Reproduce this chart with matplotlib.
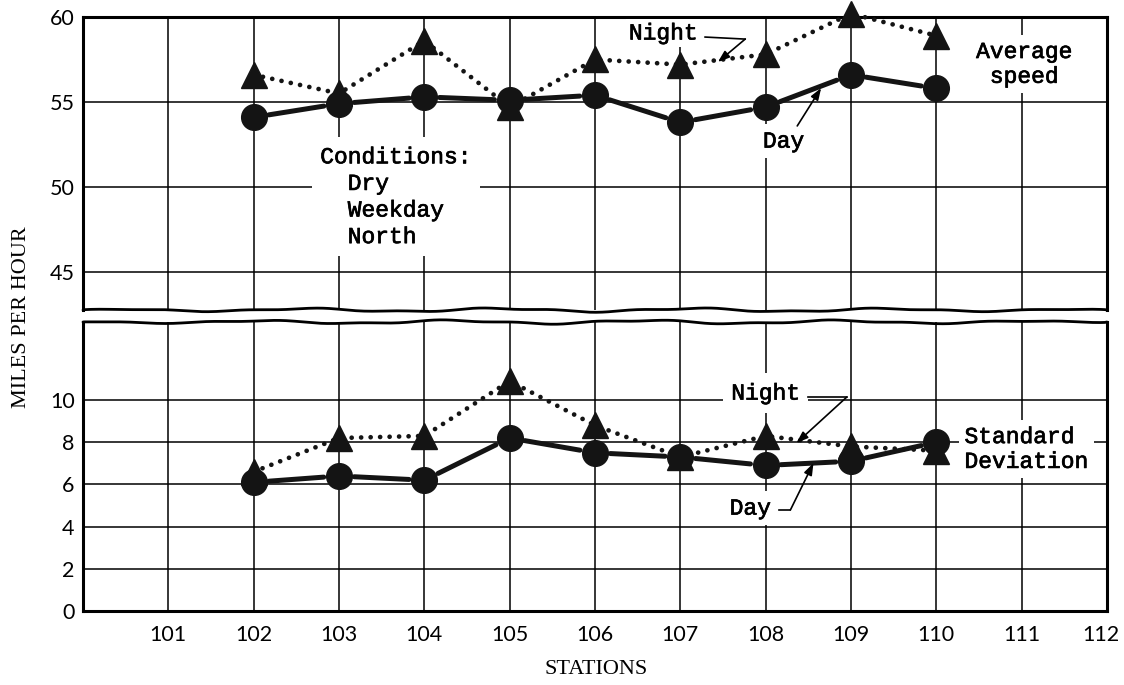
import numpy as np
import matplotlib
matplotlib.use("Agg")
import matplotlib.pyplot as plt
import matplotlib.patheffects as pe
import matplotlib.transforms as mtransforms

# Average speed and standard deviation by station, day vs night
stations = [102, 103, 104, 105, 106, 107, 108, 109, 110]
avg_day = [54.1, 54.9, 55.3, 55.1, 55.4, 53.8, 54.7, 56.6, 55.8]
avg_night = [56.6, 55.5, 58.6, 54.7, 57.5, 57.2, 57.8, 60.2, 58.9]
sd_day = [6.1, 6.4, 6.2, 8.2, 7.5, 7.3, 6.9, 7.1, 8.0]
sd_night = [6.6, 8.2, 8.3, 10.9, 8.8, 7.3, 8.3, 7.8, 7.6]

xtick_stations = list(range(101, 113))
top_yticks = [45, 50, 55, 60]
bottom_yticks = [0, 2, 4, 6, 8, 10]

INK = "#141414"
TYPE = "Liberation Mono"
TICKFONT = "Lato"

W, H = 1124, 685
fig = plt.figure(figsize=(W / 100, H / 100), dpi=100)
left, right = 83 / W, 1107 / W
ax_top = fig.add_axes([left, 1 - 310 / H, right - left, (310 - 17) / H])
ax_bot = fig.add_axes([left, 1 - 611 / H, right - left, (611 - 322) / H])


def style_axes(ax, ylim, yticks):
    ax.set_xlim(100, 112)
    ax.set_ylim(*ylim)
    ax.set_xticks(xtick_stations)
    ax.set_yticks(yticks)
    ax.set_axisbelow(True)
    ax.grid(True, color="black", lw=1.1)
    ax.tick_params(length=0, pad=6, labelsize=15.5)
    for lab in ax.get_yticklabels() + ax.get_xticklabels():
        lab.set_fontfamily(TICKFONT)
    for sp in ax.spines.values():
        sp.set_linewidth(2.2)
        sp.set_color("black")


style_axes(ax_top, (42.76, 60), top_yticks)
style_axes(ax_bot, (0, 13.7), bottom_yticks)
ax_top.tick_params(labelbottom=False)
ax_top.spines["bottom"].set_visible(False)
ax_bot.spines["top"].set_visible(False)
ax_bot.tick_params(axis="x", pad=10)

# keep the last station label inside the figure
last = ax_bot.get_xticklabels()[-1]
last.set_transform(last.get_transform() +
                   mtransforms.ScaledTranslation(-6 / 100, 0, fig.dpi_scale_trans))


def wavy_edge(ax, y_axes, height_px, phase):
    # hand-drawn style break line along one edge of the panel
    t = np.linspace(0, 1, 500)
    wob = (np.sin(2 * np.pi * (5.3 * t + phase)) * 1.6
           + np.sin(2 * np.pi * (13.1 * t + phase * 2)) * 0.7)
    wob *= np.sin(np.pi * t) ** 0.3
    ax.plot(t, y_axes + wob / height_px, transform=ax.transAxes,
            color="black", lw=2.0, clip_on=False, zorder=5,
            solid_capstyle="round")


wavy_edge(ax_top, 0.0, 293, 0.1)
wavy_edge(ax_bot, 1.0, 289, 0.35)


def draw_series(ax, day, night):
    # night: dotted line with triangles
    ax.plot(stations, night, linestyle=(0, (0.01, 2.0)), lw=3.4,
            color=INK, dash_capstyle="round", zorder=3, clip_on=False)
    ax.plot(stations, night, linestyle="none", marker="^", ms=18.5,
            color=INK, zorder=4, clip_on=False)
    # day: heavy solid segments stopping short of the circles
    for i in range(len(stations) - 1):
        ax.annotate("", xy=(stations[i + 1], day[i + 1]),
                    xytext=(stations[i], day[i]),
                    arrowprops=dict(arrowstyle="-", lw=3.6, color=INK,
                                    shrinkA=11, shrinkB=11),
                    zorder=3)
    ax.plot(stations, day, linestyle="none", marker="o", ms=18.5,
            color=INK, zorder=4, clip_on=False)


draw_series(ax_top, avg_day, avg_night)
draw_series(ax_bot, sd_day, sd_night)

box = dict(facecolor="white", edgecolor="none", pad=4)
heavier = [pe.withStroke(linewidth=0.5, foreground="black")]
tkw = dict(fontfamily=TYPE, fontsize=16.5, color="black", zorder=6,
           path_effects=heavier)


def leader(ax, pts):
    xs = [p[0] for p in pts[:-1]]
    ys = [p[1] for p in pts[:-1]]
    ax.plot(xs, ys, color="black", lw=1.2, zorder=6, clip_on=False)
    ax.annotate("", xy=pts[-1], xytext=pts[-2],
                arrowprops=dict(arrowstyle="-|>,head_length=0.7,head_width=0.25",
                                lw=1.2, color="black", shrinkA=0, shrinkB=0),
                zorder=6)


# upper panel annotations
ax_top.text(102.78, 52.45, "Conditions:\n  Dry\n  Weekday\n  North",
            ha="left", va="top", linespacing=1.2,
            bbox=dict(facecolor="white", edgecolor="none", pad=6), **tkw)
ax_top.text(111.03, 57.24, "Average\nspeed", ha="center", va="center",
            multialignment="center", linespacing=1.1, bbox=box, **tkw)
ax_top.text(106.8, 59.06, "Night", ha="center", va="center",
            bbox=dict(facecolor="white", edgecolor="none", pad=2), **tkw)
leader(ax_top, [(107.29, 58.82), (107.76, 58.7), (107.44, 57.35)])
ax_top.text(108.21, 52.7, "Day", ha="center", va="center", bbox=box, **tkw)
leader(ax_top, [(108.37, 53.59), (108.37, 53.59), (108.65, 55.82)])

# lower panel annotations
ax_bot.text(108.0, 10.33, "Night", ha="center", va="center",
            bbox=dict(facecolor="white", edgecolor="none", pad=6), **tkw)
leader(ax_bot, [(108.5, 10.14), (108.95, 10.14), (108.36, 7.96)])
ax_bot.text(107.82, 4.88, "Day", ha="center", va="center", bbox=box, **tkw)
leader(ax_bot, [(108.16, 4.79), (108.29, 4.79), (108.56, 7.01)])
ax_bot.text(110.33, 7.68, "Standard\nDeviation", ha="left", va="center",
            linespacing=1.1, bbox=box, **tkw)

# axis titles
fig.text(22 / W, 1 - 317 / H, "MILES PER HOUR", rotation=90, ha="center",
         va="center", fontfamily="Liberation Serif", fontsize=16)
fig.text(596 / W, 1 - 670 / H, "STATIONS", ha="center", va="center",
         fontfamily="Liberation Serif", fontsize=16)

fig.savefig("out.png", dpi=100, facecolor="white")
